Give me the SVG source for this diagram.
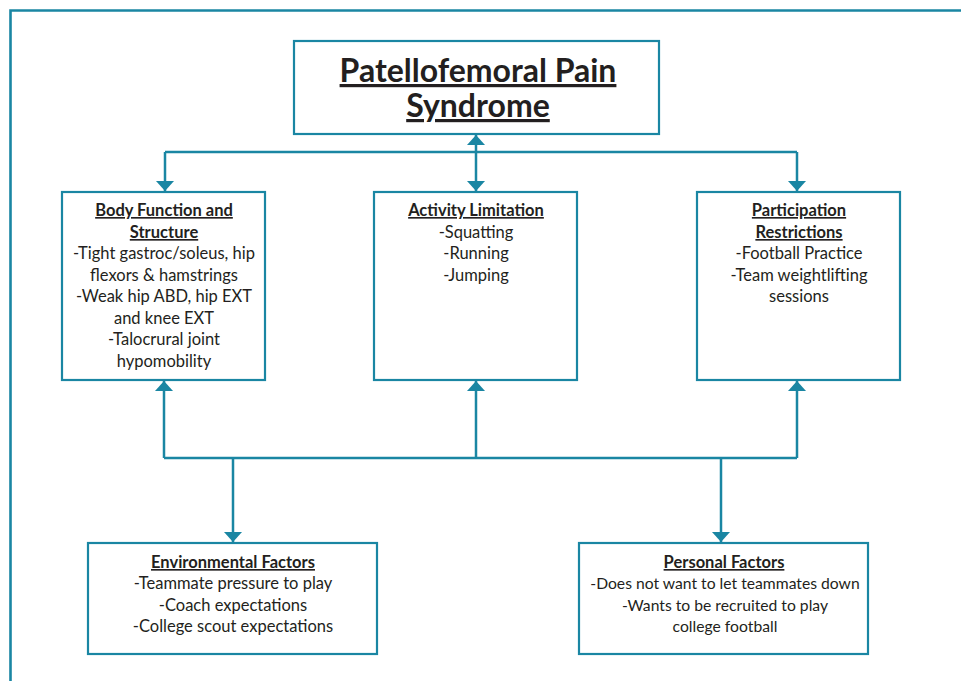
<svg xmlns="http://www.w3.org/2000/svg" width="961" height="681" viewBox="0 0 961 681">
<style>
.box{fill:#fff;stroke:#1a86a3;stroke-width:2.2}
.ln{fill:none;stroke:#1a86a3;stroke-width:2.5}
text{font-family:Lato,"Open Sans","Liberation Sans",sans-serif;fill:#231f20;text-anchor:middle;font-size:16.5px}
.h{font-weight:bold;text-decoration:underline}
.t{font-size:32px;font-weight:bold;text-decoration:underline}
.p{font-size:15.7px}
</style>
<defs>
<marker id="ah" viewBox="0 0 10 18" refX="10" refY="9" markerWidth="10" markerHeight="18" markerUnits="userSpaceOnUse" orient="auto-start-reverse">
<path d="M0,0 L10,9 L0,18 z" fill="#1a86a3"/>
</marker>
</defs>
<rect width="961" height="681" fill="#fff"/>
<path d="M10.5,681 V10.5 H961" fill="none" stroke="#1a86a3" stroke-width="2.6"/>
<g id="connectors">
<path class="ln" d="M165,152 H797"/>
<path class="ln" d="M165,152 V191" marker-end="url(#ah)"/>
<path class="ln" d="M797,152 V191" marker-end="url(#ah)"/>
<path class="ln" d="M476,135 V191" marker-start="url(#ah)" marker-end="url(#ah)"/>
<path class="ln" d="M164,458 H797"/>
<path class="ln" d="M164,458 V381" marker-end="url(#ah)"/>
<path class="ln" d="M476,458 V381" marker-end="url(#ah)"/>
<path class="ln" d="M797,458 V381" marker-end="url(#ah)"/>
<path class="ln" d="M233,458 V542" marker-end="url(#ah)"/>
<path class="ln" d="M721,458 V542" marker-end="url(#ah)"/>
</g>
<g id="title">
<rect class="box" x="294" y="41" width="365" height="93"/>
<text class="t"><tspan x="478" y="82">Patellofemoral Pain</tspan><tspan x="478" y="117">Syndrome</tspan></text>
</g>
<g id="body">
<rect class="box" x="62" y="192" width="203" height="188"/>
<text class="h" x="164" y="216">Body Function and</text>
<text class="h" x="164" y="238">Structure</text>
<text x="164" y="259">-Tight gastroc/soleus, hip</text>
<text x="164" y="281">flexors &amp; hamstrings</text>
<text x="164" y="302">-Weak hip ABD, hip EXT</text>
<text x="164" y="324">and knee EXT</text>
<text x="164" y="345">-Talocrural joint</text>
<text x="164" y="367">hypomobility</text>
</g>
<g id="activity">
<rect class="box" x="374" y="192" width="203" height="188"/>
<text class="h" x="476" y="216">Activity Limitation</text>
<text x="476" y="238">-Squatting</text>
<text x="476" y="259">-Running</text>
<text x="476" y="281">-Jumping</text>
</g>
<g id="participation">
<rect class="box" x="697" y="192" width="203" height="188"/>
<text class="h" x="799" y="216">Participation</text>
<text class="h" x="799" y="238">Restrictions</text>
<text x="799" y="259">-Football Practice</text>
<text x="799" y="281">-Team weightlifting</text>
<text x="799" y="302">sessions</text>
</g>
<g id="environmental">
<rect class="box" x="88" y="543" width="289" height="111"/>
<text class="h" x="233" y="568">Environmental Factors</text>
<text x="233" y="589">-Teammate pressure to play</text>
<text x="233" y="611">-Coach expectations</text>
<text x="233" y="632">-College scout expectations</text>
</g>
<g id="personal">
<rect class="box" x="579" y="543" width="289" height="111"/>
<text class="h" x="724" y="568">Personal Factors</text>
<text class="p" x="725" y="589">-Does not want to let teammates down</text>
<text class="p" x="725" y="611">-Wants to be recruited to play</text>
<text class="p" x="725" y="632">college football</text>
</g>
</svg>
